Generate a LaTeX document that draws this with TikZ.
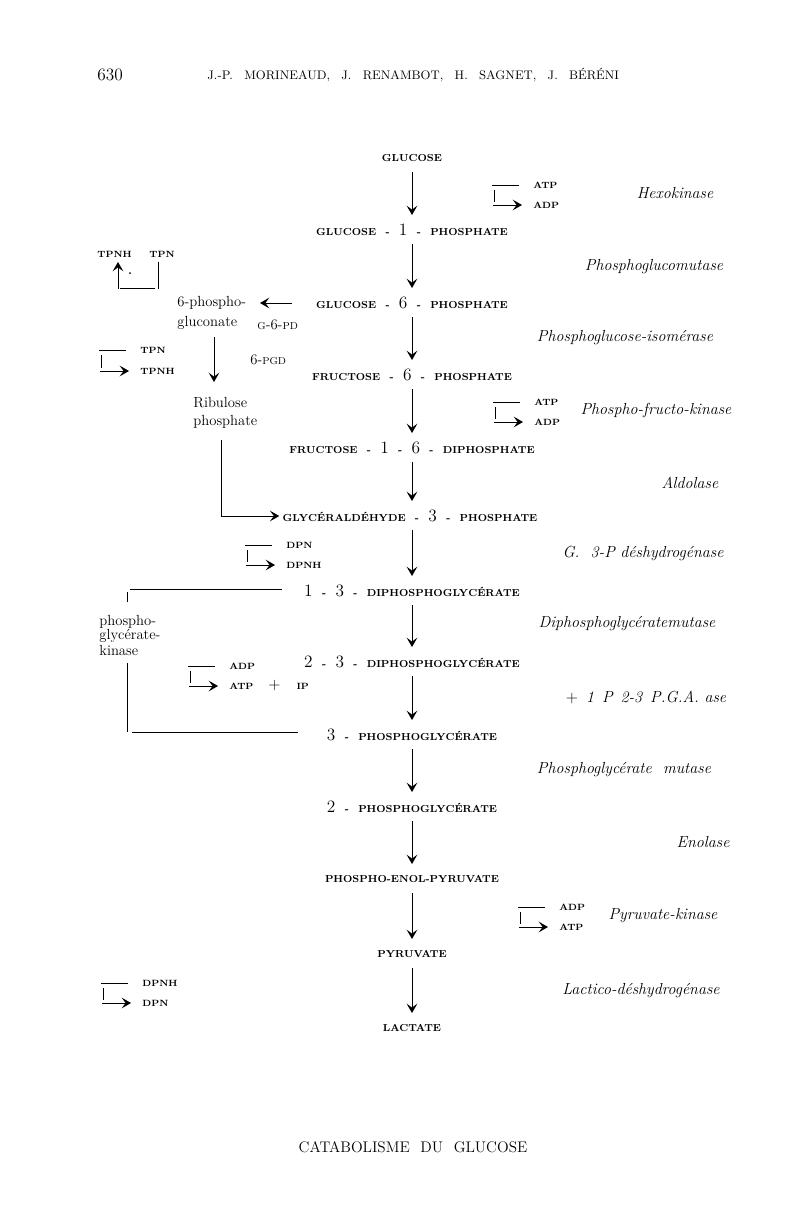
\documentclass[tikz,border=0pt]{standalone}
\usepackage{fontspec}
\usetikzlibrary{arrows.meta,calc}
\newcommand\dg[1]{{\fontsize{13}{15}\selectfont\mdseries\upshape #1}}
\newcommand\sepr{\hspace{7pt}-\hspace{7pt}}
\newcommand\smc[1]{{\fontsize{7.5}{9}\selectfont #1}}
\newcommand\cofbr[2]{%
  \draw ($(#1.west)+(-41,0)$) -- ($(#1.west)+(-14,0)$);
  \draw ($(#1.west)+(-39,5)$) -- ($(#2.west)+(-39,-3)$);
  \draw[arr] ($(#2.west)+(-40,0)$) -- ($(#2.west)+(-11,0)$);}
\begin{document}
\begin{tikzpicture}[x=0.75pt,y=-0.75pt,line width=0.65pt,
  mlab/.style={font=\fontsize{7.6}{9}\selectfont\bfseries,inner sep=0pt},
  cof/.style={font=\fontsize{6.8}{8}\selectfont\bfseries,inner sep=0pt,anchor=west},
  enz/.style={font=\fontsize{12}{14}\selectfont\itshape,inner sep=0pt},
  rom/.style={font=\fontsize{11}{13}\selectfont,inner sep=0pt,anchor=west},
  arr/.style={-{Stealth[length=7pt,width=8pt,inset=3pt]}}]
\useasboundingbox (0,0) rectangle (800,1231);
\fill[white] (0,0) rectangle (800,1231);

% header
\node[rom,font=\fontsize{13}{15}\selectfont] (pageno) at (97,75) {630};
\node[rom,font=\fontsize{9.3}{11}\selectfont] (authors) at (207,75)
  {J.-P.\hspace{8.5pt}MORINEAUD,\hspace{8.5pt}J.\hspace{8.5pt}RENAMBOT,\hspace{8.5pt}H.\hspace{8.5pt}SAGNET,\hspace{8.5pt}J.\hspace{8.5pt}BÉRÉNI};

% main column
\node[mlab] (glc)   at (412,158)  {GLUCOSE};
\node[mlab] (g1p)   at (412,230)  {GLUCOSE\sepr\dg{1}\sepr PHOSPHATE};
\node[mlab] (g6p)   at (412,303)  {GLUCOSE\sepr\dg{6}\sepr PHOSPHATE};
\node[mlab] (f6p)   at (412,375)  {FRUCTOSE\sepr\dg{6}\sepr PHOSPHATE};
\node[mlab] (fdp)   at (412,448)  {FRUCTOSE\sepr\dg{1}\sepr\dg{6}\sepr DIPHOSPHATE};
\node[mlab] (gap)   at (410,516)  {GLYCÉRALDÉHYDE\sepr\dg{3}\sepr PHOSPHATE};
\node[mlab] (dpgA)  at (412,591)  {\dg{1}\sepr\dg{3}\sepr DIPHOSPHOGLYCÉRATE};
\node[mlab] (dpgB)  at (412,662)  {\dg{2}\sepr\dg{3}\sepr DIPHOSPHOGLYCÉRATE};
\node[mlab] (pgC)   at (412,735)  {\dg{3}\sepr PHOSPHOGLYCÉRATE};
\node[mlab] (pgD)   at (412,807)  {\dg{2}\sepr PHOSPHOGLYCÉRATE};
\node[mlab] (pep)   at (412,879)  {PHOSPHO-ENOL-PYRUVATE};
\node[mlab] (pyr)   at (412,954)  {PYRUVATE};
\node[mlab] (lac)   at (412,1028) {LACTATE};

\foreach \a/\b in {glc/g1p,g1p/g6p,g6p/f6p,f6p/fdp,fdp/gap,gap/dpgA,dpgA/dpgB,dpgB/pgC,pgC/pgD,pgD/pep,pep/pyr,pyr/lac}
  \draw[arr] ($(\a -| glc)+(0,14)$) -- ($(\b -| glc)+(0,-15)$);

% enzymes
\node[enz] (e1)  at (675,193) {Hexokinase};
\node[enz] (e2)  at (654,267) {Phosphoglucomutase};
\node[enz] (e3)  at (625,338) {Phosphoglucose-isomérase};
\node[enz] (e4)  at (656,410) {Phospho-fructo-kinase};
\node[enz] (e5)  at (690,483) {Aldolase};
\node[enz] (e6)  at (643,553) {G.\ \ 3-P\ déshydrogénase};
\node[enz] (e7)  at (627,624) {Diphosphoglycératemutase};
\node[enz] (e8)  at (646,697) {{\upshape+}\hspace{6pt}1\hspace{6pt}P\hspace{6pt}2-3\hspace{6pt}P.G.A.\ ase};
\node[enz] (e9)  at (624,770) {Phosphoglycérate\ \ mutase};
\node[enz] (e10) at (703,842) {Enolase};
\node[enz] (e11) at (663,916) {Pyruvate-kinase};
\node[enz] (e12) at (641,991) {Lactico-déshydrogénase};

% cofactors
\node[cof] (atpA) at (533,185) {ATP};
\node[cof] (adpA) at (533,205) {ADP};
\cofbr{atpA}{adpA}
\node[cof] (atpB) at (534,402) {ATP};
\node[cof] (adpB) at (534,422) {ADP};
\cofbr{atpB}{adpB}
\node[cof] (dpnC) at (286,545) {DPN};
\node[cof] (dpnhC) at (286,565) {DPNH};
\cofbr{dpnC}{dpnhC}
\node[cof] (adpD) at (229,666) {ADP};
\node[cof] (atpD) at (229,686) {ATP};
\cofbr{adpD}{atpD}
\node[cof] (ipD) at (268,686) {{\fontsize{12}{13}\selectfont\mdseries+}\hspace{12pt}IP};
\node[cof] (adpE) at (559,907) {ADP};
\node[cof] (atpE) at (559,927) {ATP};
\cofbr{adpE}{atpE}
\node[cof] (dpnhF) at (142,983) {DPNH};
\node[cof] (dpnF) at (142,1003) {DPN};
\cofbr{dpnhF}{dpnF}
\node[cof] (tpnG) at (140,350) {TPN};
\node[cof] (tpnhG) at (140,371) {TPNH};
\cofbr{tpnG}{tpnhG}

% pentose branch
\node[cof] (tpnhT) at (97,254) {TPNH};
\node[cof] (tpnT) at (149,254) {TPN};
\draw[arr] ($(tpnhT.west)+(21,35)$) -- ($(tpnhT.west)+(21,8)$);
\draw ($(tpnhT.west)+(23,34)$) -- ($(tpnT.west)+(6,34)$);
\draw ($(tpnT.west)+(9,8)$) -- ($(tpnT.west)+(9,35)$);
\fill ($(tpnhT.west)+(33,19)$) circle (1);

\node[rom] (pglA) at (177,303) {6-phospho-};
\node[rom] (pglB) at (177,323) {gluconate};
\node[rom] (g6pd) at (257,325) {\smc{G}-6-\smc{PD}};
\node[rom] (pgd)  at (250,360) {6-\smc{PGD}};
\node[rom] (ribA) at (193,403) {Ribulose};
\node[rom] (ribB) at (193,422) {phosphate};
\draw[arr] ($(g6p.west)+(-24,0)$) -- ($(pglA.west)+(83,0)$);
\draw[arr] ($(pglB.west)+(37,14)$) -- ($(ribA.west)+(21,-21)$);
\draw[arr] ($(ribB.west)+(28,18)$) |- ($(gap.west)+(-3,0)$);

% phosphoglycerate kinase
\node[rom] (pgkA) at (99,622) {phospho-};
\node[rom] (pgkB) at (99,636) {glycérate-};
\node[rom] (pgkC) at (99,650) {kinase};
\draw ($(dpgA.west)+(-22,-2)$) -- ($(pgkA.west)+(31,-33)$);
\draw ($(pgkA.west)+(28,-30)$) -- ($(pgkA.west)+(28,-20)$);
\draw ($(pgkC.west)+(28,13)$) -- ($(pgkC.west)+(28,82)$);
\draw ($(pgkC.west)+(33,82)$) -- ($(pgC.west)+(-29,-3)$);

% title
\node[inner sep=0pt,font=\fontsize{11.5}{13}\selectfont] (title) at (413,1147)
  {CATABOLISME\hspace{8pt}DU\hspace{8pt}GLUCOSE};
\end{tikzpicture}
\end{document}
